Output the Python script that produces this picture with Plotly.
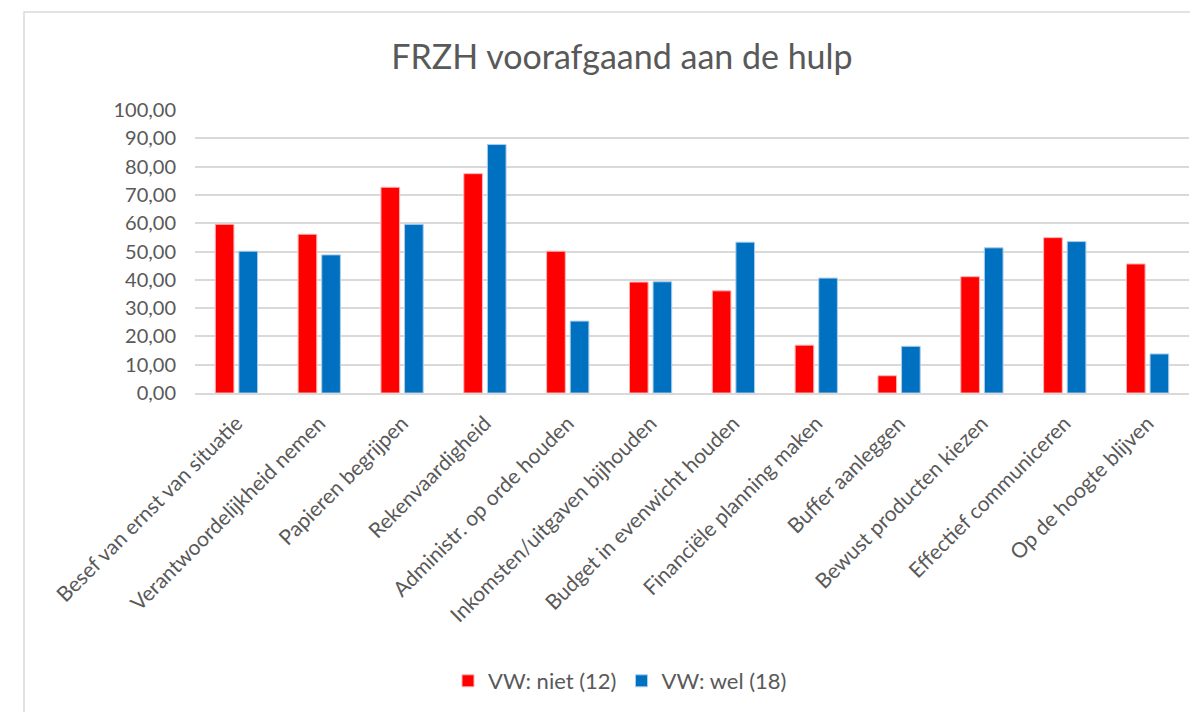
import plotly.graph_objects as go

categories = [
    "Besef van ernst van situatie",
    "Verantwoordelijkheid nemen",
    "Papieren begrijpen",
    "Rekenvaardigheid",
    "Administr. op orde houden",
    "Inkomsten/uitgaven bijhouden",
    "Budget in evenwicht houden",
    "Financiële planning maken",
    "Buffer aanleggen",
    "Bewust producten kiezen",
    "Effectief communiceren",
    "Op de hoogte blijven",
]
niet_values = [59.6, 56.1, 72.7, 77.5, 50.1, 39.2, 36.1, 16.9, 6.1, 41.1, 54.9, 45.6]
wel_values = [50.1, 48.8, 59.6, 87.8, 25.4, 39.3, 53.3, 40.6, 16.5, 51.3, 53.5, 13.8]
series_names = ["VW: niet (12)", "VW: wel (18)"]
tick_vals = [0, 10, 20, 30, 40, 50, 60, 70, 80, 90, 100]
tick_text = ["0,00", "10,00", "20,00", "30,00", "40,00", "50,00", "60,00",
             "70,00", "80,00", "90,00", "100,00"]

FONT = "Lato, 'Open Sans', sans-serif"
TXT = "#595959"

# page body has an 8px margin; figure sized to fit the window
OFF = 8
W, H = 1190, 704
ml, mr, mt, mb = 195 - OFF, 9, 110 - OFF, 319
pw, ph = W - ml - mr, H - mt - mb

fig = go.Figure()
fig.add_trace(go.Bar(x=categories, y=niet_values, name=series_names[0],
                     marker=dict(color="#FF0000", line=dict(color="#FFB3B3", width=1))))
fig.add_trace(go.Bar(x=categories, y=wel_values, name=series_names[1],
                     marker=dict(color="#0070C0", line=dict(color="#A9CDEB", width=1))))

# chart border
fig.add_shape(type="rect", xref="paper", yref="paper",
              x0=(24 - OFF - ml) / pw, x1=(W + 20 - ml) / pw,
              y0=-(mb + 20) / ph, y1=1 + (mt - (12 - OFF)) / ph,
              line=dict(color="#D9D9D9", width=1.5), fillcolor="rgba(0,0,0,0)", layer="below")

fig.update_layout(
    width=W, height=H,
    margin=dict(l=ml, r=mr, t=mt, b=mb, autoexpand=False),
    paper_bgcolor="white", plot_bgcolor="white",
    font=dict(family=FONT, color=TXT, size=18),
    title=dict(text="FRZH voorafgaand aan de hulp", x=(622 - OFF) / W, xanchor="center",
               y=1 - (57 - OFF) / H, yanchor="middle", font=dict(size=34, color=TXT, family=FONT)),
    barmode="group", bargap=0.43, bargroupgap=0.21,
    showlegend=True,
    legend=dict(orientation="h", x=(448 - OFF - ml) / pw, xanchor="left",
                y=-(681 - 393) / ph, yanchor="middle",
                font=dict(size=22, color=TXT, family=FONT), itemwidth=30,
                bgcolor="rgba(0,0,0,0)"),
)
fig.update_xaxes(tickangle=-45, showgrid=False, showline=True, linecolor="#D9D9D9",
                 linewidth=1.5, ticks="", ticklabelstandoff=8,
                 tickfont=dict(size=21, color=TXT, family=FONT))
fig.update_yaxes(range=[0, 100], tickvals=tick_vals, ticktext=tick_text,
                 showgrid=True, gridcolor="#D9D9D9", gridwidth=1.5,
                 zeroline=False, showline=False, ticks="", ticklen=0, ticklabelstandoff=18,
                 tickfont=dict(size=20, color=TXT, family=FONT))

fig.write_html("out.html")
